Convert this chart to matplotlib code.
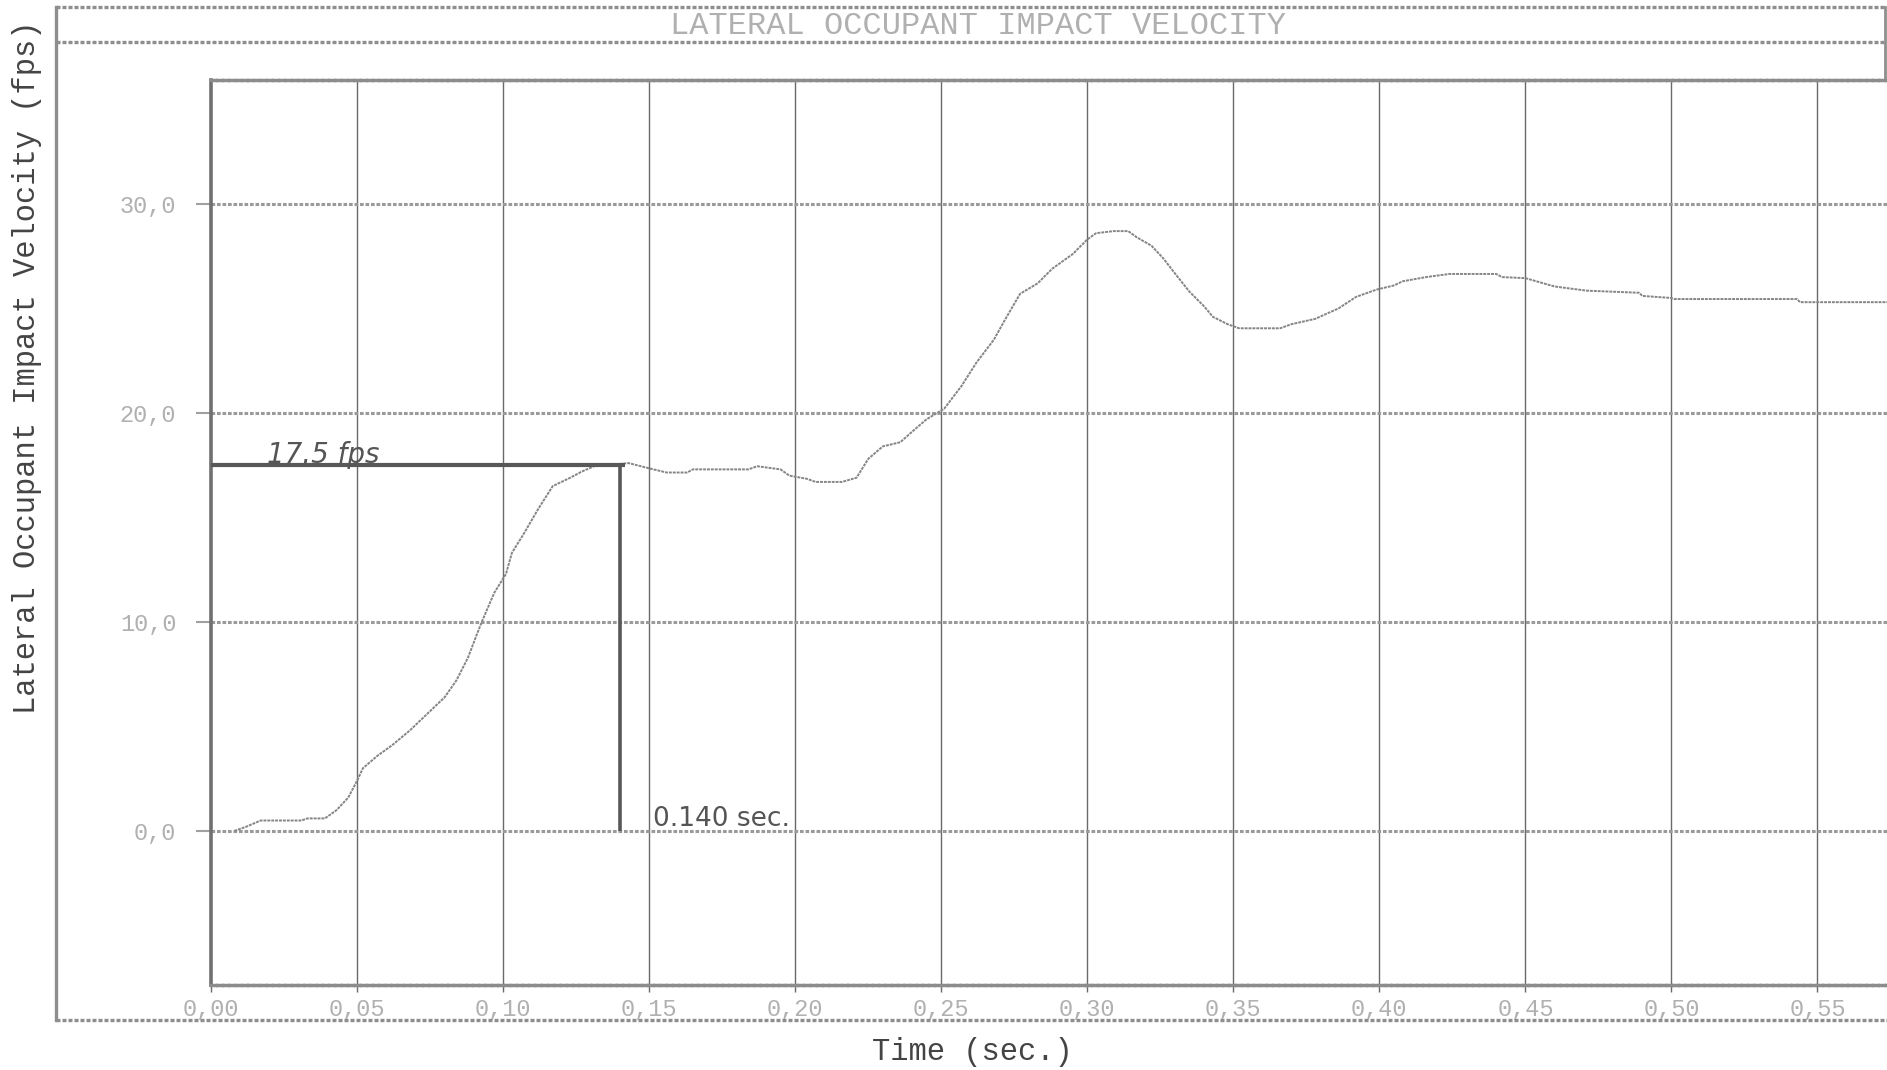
import matplotlib
matplotlib.use("Agg")
import matplotlib.pyplot as plt
from matplotlib.lines import Line2D

# lateral occupant impact velocity trace
time_s = [0.008, 0.012, 0.017, 0.031, 0.033, 0.039, 0.043, 0.047, 0.050, 0.052,
          0.057, 0.062, 0.068, 0.074, 0.080, 0.084, 0.088, 0.091, 0.093, 0.097,
          0.101, 0.103, 0.107, 0.112, 0.117, 0.123, 0.127, 0.132, 0.139,
          0.143, 0.150, 0.156, 0.163, 0.165, 0.184, 0.187, 0.195, 0.198, 0.204,
          0.207, 0.216, 0.221, 0.225, 0.230, 0.236, 0.240, 0.245, 0.251, 0.257,
          0.262, 0.268, 0.272, 0.277, 0.283, 0.288, 0.295, 0.300, 0.303, 0.309,
          0.314, 0.317, 0.322, 0.326, 0.331, 0.335, 0.340, 0.343, 0.348, 0.352,
          0.366, 0.370, 0.378, 0.386, 0.392, 0.399, 0.405, 0.408, 0.416, 0.424,
          0.440, 0.442, 0.450, 0.455, 0.460, 0.471, 0.489, 0.490, 0.500, 0.501,
          0.543, 0.544, 0.574]
velocity_fps = [0.0, 0.2, 0.5, 0.5, 0.6, 0.6, 1.0, 1.6, 2.4, 3.0,
                3.6, 4.1, 4.8, 5.6, 6.4, 7.2, 8.3, 9.4, 10.1, 11.4,
                12.3, 13.3, 14.2, 15.4, 16.5, 16.9, 17.2, 17.5, 17.55,
                17.6, 17.35, 17.15, 17.15, 17.3, 17.3, 17.45, 17.3, 17.0, 16.85,
                16.7, 16.7, 16.9, 17.8, 18.4, 18.6, 19.1, 19.7, 20.2, 21.3,
                22.4, 23.5, 24.5, 25.7, 26.2, 26.9, 27.6, 28.3, 28.6, 28.7,
                28.7, 28.4, 28.0, 27.4, 26.5, 25.8, 25.1, 24.6, 24.25, 24.05,
                24.05, 24.25, 24.5, 25.0, 25.55, 25.9, 26.1, 26.3, 26.5, 26.65,
                26.65, 26.5, 26.45, 26.25, 26.05, 25.85, 25.75, 25.6, 25.5, 25.45,
                25.45, 25.3, 25.3]

# hand-marked occupant impact point
impact_time = 0.140
impact_velocity = 17.5

x_ticks = [0.00, 0.05, 0.10, 0.15, 0.20, 0.25, 0.30, 0.35, 0.40, 0.45, 0.50, 0.55]
x_labels = ["0,00", "0,05", "0,10", "0,15", "0,20", "0,25", "0,30", "0,35",
            "0,40", "0,45", "0,50", "0,55"]
y_ticks = [0, 10, 20, 30]
y_labels = ["0,0", "10,0", "20,0", "30,0"]

W, H = 1887, 1070


def fx(px):
    return px / W


def fy(py):
    return 1 - py / H


fig = plt.figure(figsize=(W / 100, H / 100), dpi=100)
fig.patch.set_facecolor("white")

ax = fig.add_axes([fx(211), fy(985), 1 - fx(211), (985 - 80) / H])
ax.set_xlim(0, 0.5738)
ax.set_ylim(-7.37, 35.93)

grainy = (0, (1.2, 0.6))

# vertical grid solid, horizontal grid grainy like the printer output
for t in x_ticks[1:]:
    ax.axvline(t, color="#6a6a6a", lw=1.0, zorder=1)
for v in y_ticks:
    ax.axhline(v, color="#9a9a9a", lw=2.2, ls=grainy, zorder=1)

ax.plot(time_s, velocity_fps, color="#858585", lw=1.4, ls=(0, (1.5, 0.5)), zorder=3)

# hand-drawn markers
ax.plot([0, impact_time + 0.0017], [impact_velocity, impact_velocity],
        color="#585858", lw=3.0, solid_capstyle="butt", zorder=4)
ax.plot([impact_time, impact_time], [0, impact_velocity],
        color="#585858", lw=2.6, solid_capstyle="butt", zorder=4)
ax.text(0.0192, impact_velocity + 0.1, "17.5 fps", fontsize=20, style="italic",
        color="#555555", family="DejaVu Sans", va="baseline", zorder=5)
ax.text(0.1513, 0.25, "0.140 sec.", fontsize=19, color="#555555",
        family="DejaVu Sans", va="baseline", zorder=5)

for side in ["top", "bottom"]:
    ax.spines[side].set_color("#8c8c8c")
    ax.spines[side].set_linewidth(2.5)
    ax.spines[side].set_linestyle(grainy)
ax.spines["left"].set_color("#707070")
ax.spines["left"].set_linewidth(2.6)
ax.spines["right"].set_visible(False)

ax.set_xticks(x_ticks, labels=x_labels)
ax.set_yticks(y_ticks, labels=y_labels)
ax.tick_params(axis="x", length=5, width=1.0, color="#6a6a6a", pad=4,
               labelsize=17, labelcolor="#b0b0b0")
ax.tick_params(axis="y", length=11, width=1.5, color="#a0a0a0", pad=14,
               labelsize=17, labelcolor="#b0b0b0")
for lab in ax.get_xticklabels() + ax.get_yticklabels():
    lab.set_family("Liberation Mono")

# outer frame and title box
frame = dict(color="#8e8e8e", lw=2.4, ls=grainy, transform=fig.transFigure)
fig.add_artist(Line2D([fx(56), fx(1885)], [fy(7), fy(7)], **frame))
fig.add_artist(Line2D([fx(56), fx(1885)], [fy(42), fy(42)], **frame))
fig.add_artist(Line2D([fx(1885), fx(1885)], [fy(7), fy(78)], color="#8e8e8e", lw=2,
                      transform=fig.transFigure))
fig.add_artist(Line2D([fx(56), fx(56)], [fy(7), fy(1020)], color="#8e8e8e", lw=2.4,
                      transform=fig.transFigure))
fig.add_artist(Line2D([fx(56), 1.0], [fy(1020), fy(1020)], **frame))

fig.text(fx(978), fy(26), "LATERAL OCCUPANT IMPACT VELOCITY", fontsize=23,
         family="Liberation Mono", color="#b0b0b0", ha="center", va="center")

fig.text(fx(27), fy(367), "Lateral Occupant Impact Velocity (fps)", fontsize=22,
         family="Liberation Mono", color="#444444", rotation=90,
         ha="center", va="center")
fig.text(fx(972), fy(1052), "Time (sec.)", fontsize=22, family="Liberation Mono",
         color="#444444", ha="center", va="center")

fig.savefig("out.png", dpi=100)
